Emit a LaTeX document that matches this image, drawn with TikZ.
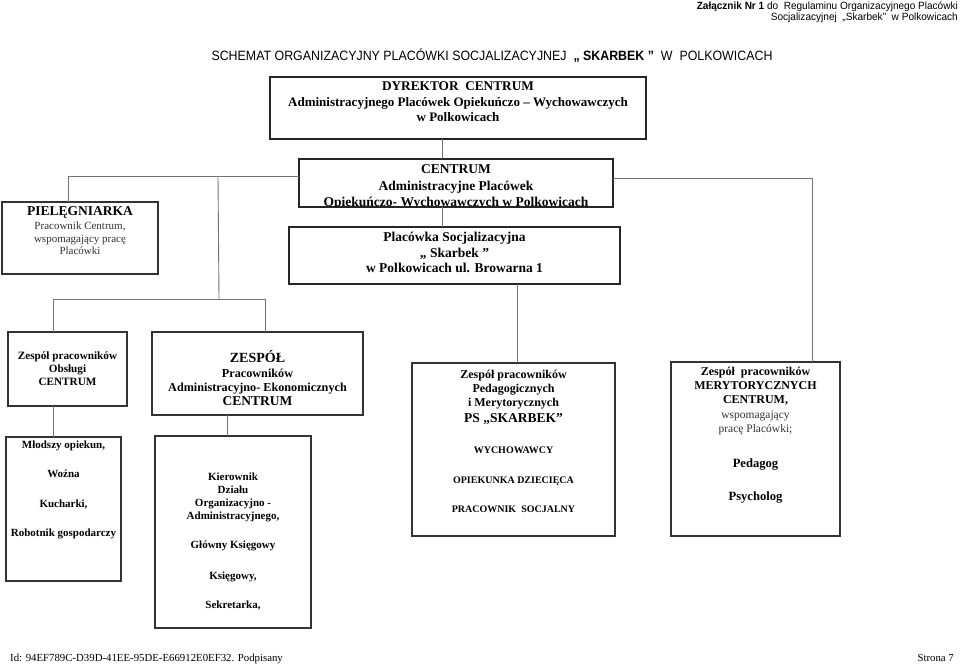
\documentclass[tikz,border=0pt]{standalone}
\usepackage{fontspec}
\setmainfont{Liberation Serif}
\newfontfamily\hdrfont{Liberation Sans}
\begin{document}
\begin{tikzpicture}[x=1pt,y=-1pt,
  bbox/.style={draw=black!85, line width=1.8pt, anchor=north west, inner sep=0pt, outer sep=0pt},
  sbox/.style={draw=black!80, line width=1.3pt, anchor=north west, inner sep=0pt, outer sep=0pt},
  conn/.style={draw=black!55, line width=0.9pt},
  tb/.style={inner sep=0pt, anchor=base, yshift=-0.33*#1pt, font=\fontsize{#1}{#1}\selectfont\bfseries},
  tb/.default=12,
  tn/.style={inner sep=0pt, anchor=base, yshift=-0.33*#1pt, font=\fontsize{#1}{#1}\selectfont, text=black!80},
  tn/.default=11,
  hd/.style={inner sep=0pt, anchor=base east, yshift=-0.36*#1pt, font=\hdrfont\fontsize{#1}{#1}\selectfont},
  hd/.default=10.5
]
\useasboundingbox (0,0) rectangle (960,666);
\fill[white] (0,0) rectangle (960,666);

% header
\node[hd] (h1) at (958,6) {\resizebox{261pt}{\height}{\textbf{Załącznik Nr 1} do\ \ Regulaminu Organizacyjnego Placówki}};
\node[hd] (h2) at (958,17) {\resizebox{187pt}{\height}{Socjalizacyjnej\ \ „Skarbek”\ \ w Polkowicach}};
\node[hd=13.5, anchor=base] (title) at (492,56) {\resizebox{561pt}{\height}{SCHEMAT ORGANIZACYJNY PLACÓWKI SOCJALIZACYJNEJ\ \ \textbf{„ SKARBEK ”}\ \ W\ \ POLKOWICACH}};

% boxes
\node[bbox, minimum width=376pt, minimum height=62pt] (dir) at (270,77) {};
\node[bbox, minimum width=314pt, minimum height=48pt] (cen) at (299,159) {};
\node[bbox, minimum width=331pt, minimum height=57pt] (pla) at (289,227) {};
\node[sbox, minimum width=156pt, minimum height=72pt] (piel) at (2,202) {};
\node[sbox, minimum width=119pt, minimum height=74pt] (b1) at (8,332) {};
\node[sbox, minimum width=211pt, minimum height=83pt] (b2) at (152,332) {};
\node[sbox, minimum width=115pt, minimum height=144pt] (b3) at (6,437) {};
\node[sbox, minimum width=156pt, minimum height=192pt] (b4) at (155,436) {};
\node[sbox, minimum width=203pt, minimum height=173pt] (b5) at (412,363) {};
\node[sbox, minimum width=169pt, minimum height=174pt] (b6) at (671,362) {};

% director
\node[tb=13.3] (d1) at (458,86.5) {DYREKTOR\ \ CENTRUM};
\node[tb=13] (d2) at (458,102) {Administracyjnego Placówek Opiekuńczo – Wychowawczych};
\node[tb=13] (d3) at (458,117) {w Polkowicach};

% centrum
\node[tb=13.5] (c1t) at (456,169) {CENTRUM};
\node[tb=13.5] (c2t) at (456,186) {Administracyjne Placówek};
\begin{scope}
\clip (299,159) rectangle (613,206);
\node[tb=13.5] (c3t) at (456,202) {Opiekuńczo- Wychowawczych w Polkowicach};
\end{scope}

% placowka
\node[tb=13.5] (p1) at (454.5,237) {Placówka Socjalizacyjna};
\node[tb=13.5] (p2) at (454.5,253) {„ Skarbek ”};
\node[tb=13.5] (p3) at (454.5,268) {w Polkowicach ul. Browarna 1};

% pielegniarka
\node[tb=13.5] (n1) at (80,211) {PIELĘGNIARKA};
\node[tn=11] (n2) at (80,226) {Pracownik Centrum,};
\node[tn=11] (n3) at (80,239) {wspomagający pracę};
\node[tn=11] (n4) at (80,251) {Placówki};

% b1
\node[tb=11.2] (a1) at (67.5,356) {Zespół pracowników};
\node[tb=11.2] (a2) at (67.5,369) {Obsługi};
\node[tb=11.2] (a3) at (67.5,382) {CENTRUM};

% b2
\node[tb=14] (e1) at (257.5,358) {ZESPÓŁ};
\node[tb=12.2] (e2) at (257.5,373) {Pracowników};
\node[tb=12.2] (e3) at (257.5,387) {Administracyjno- Ekonomicznych};
\node[tb=13.5] (e4) at (257.5,401) {CENTRUM};

% b3
\node[tb=11] (m1) at (63.5,445) {Młodszy opiekun,};
\node[tb=11] (m2) at (63.5,474) {Woźna};
\node[tb=11] (m3) at (63.5,504) {Kucharki,};
\node[tb=11] (m4) at (63.5,533) {Robotnik gospodarczy};

% b4
\node[tb=11] (k1) at (233,477) {Kierownik};
\node[tb=11] (k2) at (233,490) {Działu};
\node[tb=11] (k3) at (233,503) {Organizacyjno -};
\node[tb=11] (k4) at (233,516) {Administracyjnego,};
\node[tb=11] (k5) at (233,545) {Główny Księgowy};
\node[tb=11] (k6) at (233,576) {Księgowy,};
\node[tb=11] (k7) at (233,605) {Sekretarka,};

% b5
\node[tb=12] (s1) at (513.5,375) {Zespół pracowników};
\node[tb=12] (s2) at (513.5,389) {Pedagogicznych};
\node[tb=12] (s3) at (513.5,403) {i Merytorycznych};
\node[tb=13.5] (s4) at (513.5,418) {PS „SKARBEK”};
\node[tb=10] (s5) at (513.5,450) {WYCHOWAWCY};
\node[tb=10] (s6) at (513.5,480) {OPIEKUNKA DZIECIĘCA};
\node[tb=10] (s7) at (513.5,509) {PRACOWNIK\ \ SOCJALNY};

% b6
\node[tb=12] (r1) at (755.5,372) {Zespół\ \ pracowników};
\node[tb=12] (r2) at (755.5,386) {MERYTORYCZNYCH};
\node[tb=12] (r3) at (755.5,400) {CENTRUM,};
\node[tn=11.5] (r4) at (755.5,415) {wspomagający};
\node[tn=11.5] (r5) at (755.5,429) {pracę Placówki;};
\node[tb=12.6] (r6) at (755.5,463) {Pedagog};
\node[tb=12.6] (r7) at (755.5,496) {Psycholog};

% footer
\node[tn=10.8, anchor=base west, text=black] (f1) at (10,658) {Id: 94EF789C-D39D-41EE-95DE-E66912E0EF32. Podpisany};
\node[tn=10.8, anchor=base east, text=black] (f2) at (954,658) {Strona 7};

% connectors
\coordinate (xc) at (442,0);
\coordinate (jL) at (68,176);
\coordinate (jM) at (218,176);
\coordinate (jB) at (219,299);
\coordinate (jB1) at (53,299);
\coordinate (jB2) at (265,299);
\coordinate (jR) at (812,178);
\coordinate (x227) at (227,0);
\coordinate (x517) at (517,0);
\draw[conn] (dir.south -| xc) -- (cen.north -| xc);
\draw[conn] (cen.south -| xc) -- (pla.north -| xc);
\draw[conn] (cen.west |- jL) -- (jL) -- (jL |- piel.north);
\draw[conn] (jM) -- (jB);
\draw[conn] (jB1 |- b1.north) -- (jB1) -- (jB2) -- (jB2 |- b2.north);
\draw[conn] (b1.south -| jB1) -- (b3.north -| jB1);
\draw[conn] (b2.south -| x227) -- (b4.north -| x227);
\draw[conn] (pla.south -| x517) -- (b5.north -| x517);
\draw[conn] (cen.east |- jR) -- (jR) -- (jR |- b6.north);
\end{tikzpicture}
\end{document}
